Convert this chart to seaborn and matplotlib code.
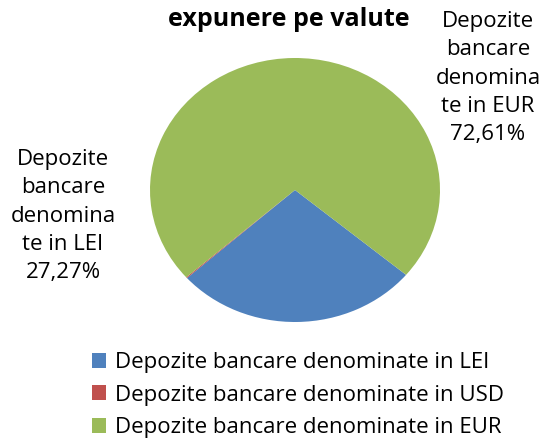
import matplotlib
matplotlib.use("Agg")
import matplotlib.pyplot as plt
import seaborn as sns

# ---------------------------------------------------------------------
# DATA
# ---------------------------------------------------------------------
categories = [
    "Depozite bancare denominate in LEI",
    "Depozite bancare denominate in USD",
    "Depozite bancare denominate in EUR",
]
shares = [27.27, 0.12, 72.61]
label_lei = "Depozite\nbancare\ndenomina\nte in LEI\n27,27%"
label_eur = "Depozite\nbancare\ndenomina\nte in EUR\n72,61%"
title = "expunere pe valute"

# ---------------------------------------------------------------------
# STYLE
# ---------------------------------------------------------------------
sns.set_theme(style="white")
plt.rcParams["font.family"] = ["Open Sans", "DejaVu Sans"]
plt.rcParams["text.color"] = "black"
colors = sns.color_palette(["#4F81BD", "#C0504D", "#9BBB59"])

W, H = 541, 441
fig = plt.figure(figsize=(W / 100, H / 100), dpi=100)

# pie area (slightly elliptical, as in the original)
ax = fig.add_axes([150 / W, 1 - 322 / H, 290 / W, 264 / H])
wedges, _ = ax.pie(shares, colors=colors, startangle=-40, counterclock=False,
                   wedgeprops=dict(linewidth=0))
ax.set_aspect("auto")
ax.set_xlim(-1, 1)
ax.set_ylim(-1, 1)
ax.axis("off")

fig.text(289 / W, 1 - 20 / H, title, ha="center", va="center",
         fontsize=18, fontweight="bold")

fig.text(488 / W, 1 - 78 / H, label_eur, ha="center", va="center",
         fontsize=16, linespacing=1.45)
fig.text(63 / W, 1 - 216 / H, label_lei, ha="center", va="center",
         fontsize=16, linespacing=1.45)

fig.legend(wedges, categories, loc="upper left",
           bbox_to_anchor=(92 / W, 1 - 352 / H), frameon=False,
           fontsize=16, handlelength=0.65, handleheight=0.65,
           handletextpad=0.4, labelspacing=0.52, borderpad=0,
           borderaxespad=0)

plt.savefig("out.png", dpi=100)
